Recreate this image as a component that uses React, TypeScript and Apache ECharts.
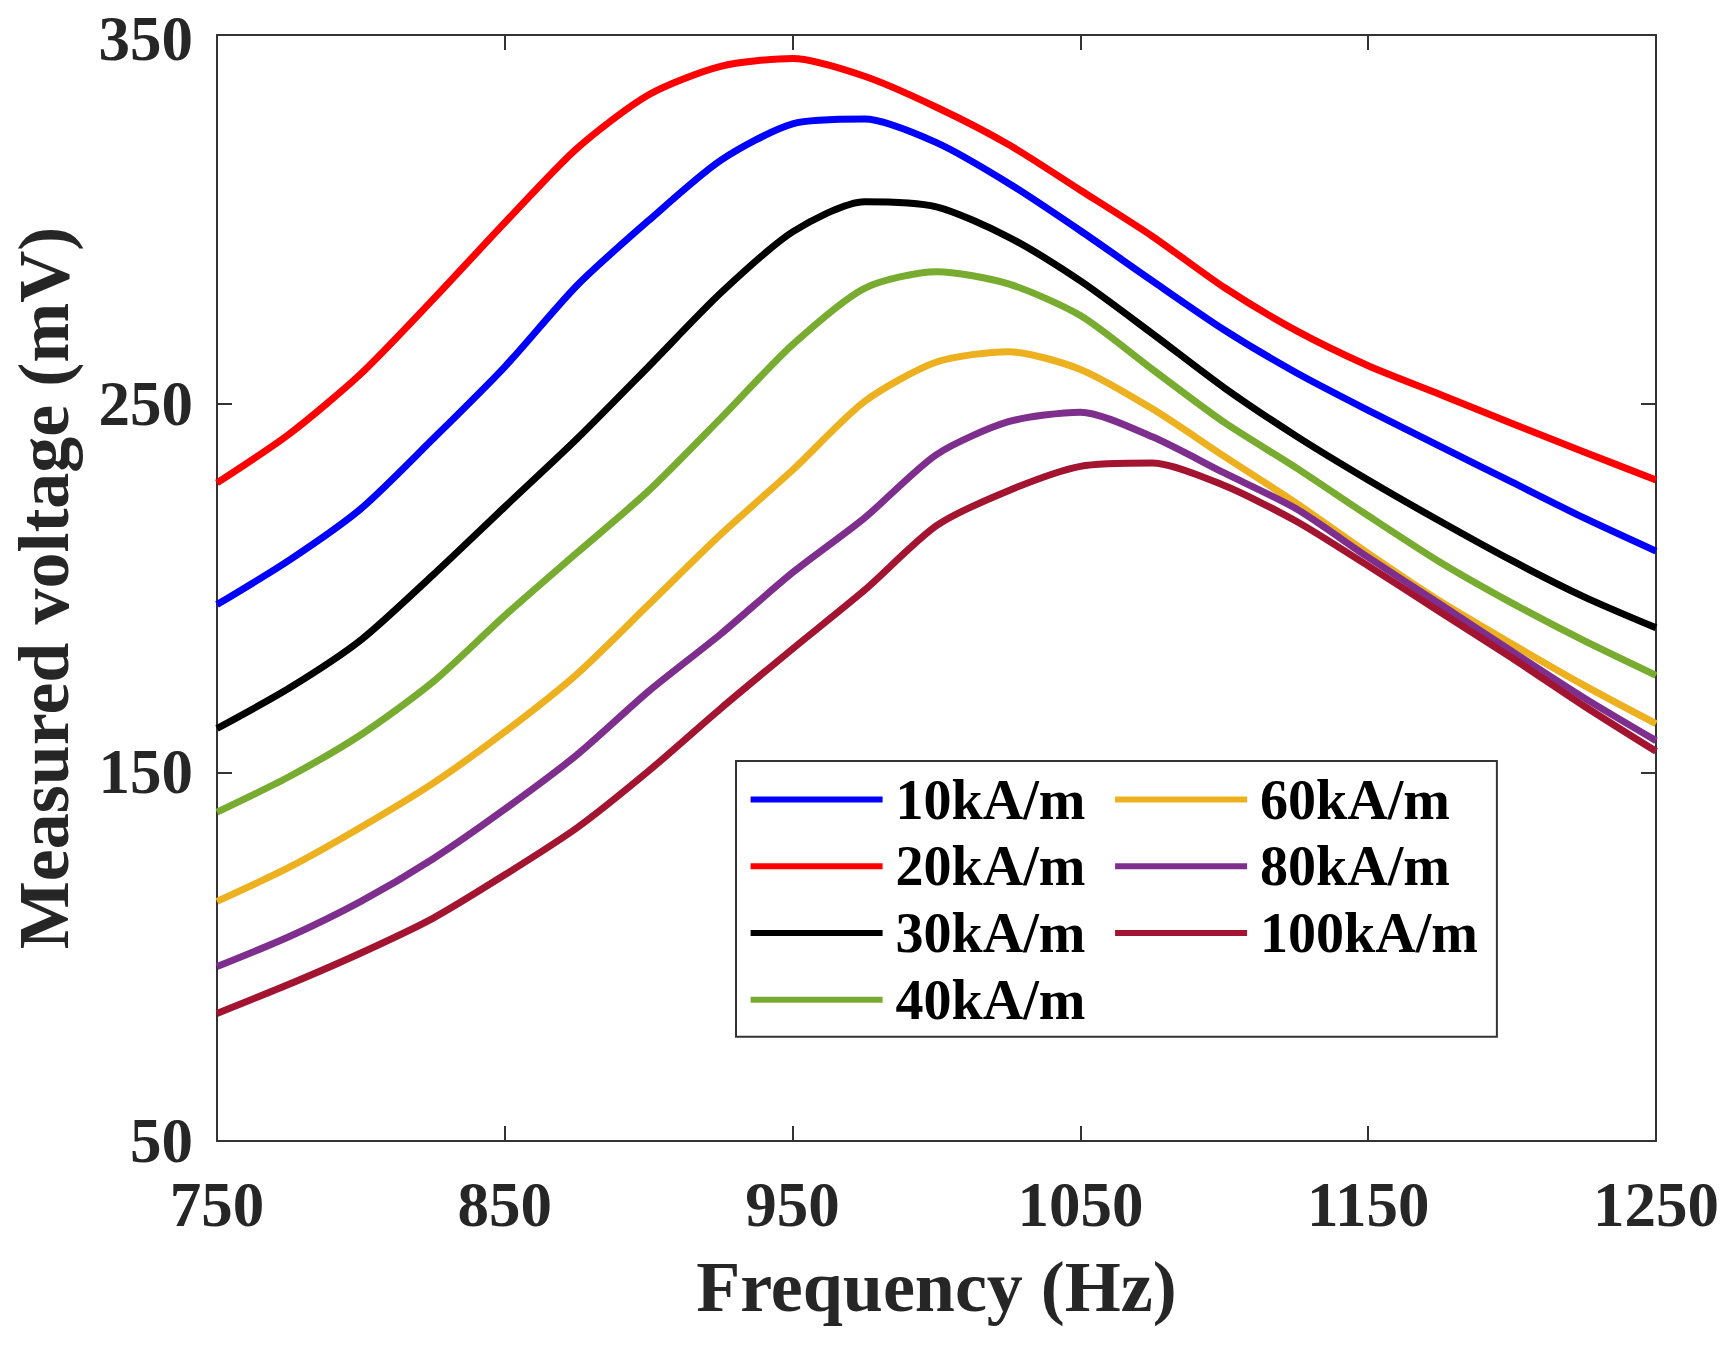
import React, { useEffect, useRef } from "react";
import * as echarts from "echarts";

const frequencies = [750, 775, 800, 825, 850, 875, 900, 925, 950, 975, 1000, 1025, 1050, 1075, 1100, 1125, 1150, 1175, 1200, 1225, 1250];

const seriesNames = ["10kA/m", "20kA/m", "30kA/m", "40kA/m", "60kA/m", "80kA/m", "100kA/m"];
const seriesColors = ["#0000FF", "#FF0000", "#000000", "#77AC30", "#EDB120", "#7E2F8E", "#A2142F"];

const v10 = [195.5, 207.5, 221.5, 240.4, 260.0, 282.0, 299.7, 316.0, 325.9, 327.2, 320.8, 309.8, 296.9, 283.3, 270.0, 258.4, 248.2, 238.4, 228.7, 219.0, 210.0];
const v20 = [228.5, 241.7, 258.1, 278.2, 299.1, 319.2, 333.8, 341.5, 343.6, 338.8, 330.4, 320.3, 307.9, 295.4, 281.5, 269.8, 260.3, 252.5, 244.6, 236.9, 229.3];
const v30 = [161.9, 172.8, 185.9, 203.5, 222.0, 240.4, 260.1, 280.0, 296.6, 304.8, 303.4, 295.2, 283.3, 269.0, 254.3, 241.2, 229.3, 218.1, 207.4, 197.6, 189.2];
const v40 = [139.2, 148.8, 160.2, 174.5, 192.5, 209.5, 226.4, 246.0, 266.0, 281.3, 285.8, 282.5, 273.9, 259.3, 244.9, 232.6, 219.6, 207.0, 195.9, 185.7, 176.3];
const v60 = [115.0, 124.2, 135.1, 147.0, 161.0, 176.6, 195.5, 214.5, 232.0, 250.6, 261.3, 264.1, 259.3, 248.6, 235.7, 223.0, 209.4, 196.4, 184.8, 173.6, 163.2];
const v80 = [97.3, 105.4, 115.0, 126.5, 140.0, 154.7, 172.0, 187.5, 204.2, 219.0, 236.2, 245.1, 247.7, 241.0, 231.2, 221.5, 208.3, 195.6, 182.8, 170.2, 158.6];
const v100 = [84.6, 92.5, 101.0, 110.4, 122.2, 134.9, 150.4, 167.3, 183.5, 199.4, 216.9, 226.4, 233.0, 233.9, 227.8, 218.1, 206.0, 193.5, 181.0, 168.0, 155.7];

const allValues = [v10, v20, v30, v40, v60, v80, v100];

const X_MIN = 750;
const X_MAX = 1250;
const X_STEP = 100;
const Y_MIN = 50;
const Y_MAX = 350;
const Y_STEP = 100;

const FONT = "'Liberation Serif', 'Times New Roman', Times, serif";
const AXIS_COLOR = "#333333";
const TEXT_COLOR = "#262626";

export default function App() {
  const ref = useRef<HTMLDivElement>(null);

  useEffect(() => {
    document.body.style.margin = "0";
    const chart = echarts.init(ref.current as HTMLDivElement, null, { renderer: "svg" });

    const axisLine = { show: true, onZero: false, lineStyle: { color: AXIS_COLOR, width: 2 } };
    const axisTick = { show: true, inside: true, length: 15, lineStyle: { color: AXIS_COLOR, width: 2 } };
    const tickFont = { fontFamily: FONT, fontSize: 63, fontWeight: "bold", color: TEXT_COLOR };

    chart.setOption({
      animation: false,
      backgroundColor: "#ffffff",
      grid: { left: 216, right: 80, top: 33, bottom: 205, containLabel: false },
      xAxis: [
        {
          type: "value",
          position: "bottom",
          min: X_MIN,
          max: X_MAX,
          interval: X_STEP,
          axisLine,
          axisTick,
          splitLine: { show: false },
          axisLabel: {
            formatter: (v: number) => String(v),
            ...tickFont,
            lineHeight: 56,
            margin: 36,
          },
          name: "Frequency (Hz)",
          nameLocation: "middle",
          nameGap: 110,
          nameTextStyle: { fontFamily: FONT, fontSize: 72, fontWeight: "bold", color: TEXT_COLOR },
        },
        {
          type: "value",
          position: "top",
          min: X_MIN,
          max: X_MAX,
          interval: X_STEP,
          axisLine,
          axisTick,
          splitLine: { show: false },
          axisLabel: { show: false },
        },
      ],
      yAxis: [
        {
          type: "value",
          position: "left",
          min: Y_MIN,
          max: Y_MAX,
          interval: Y_STEP,
          axisLine,
          axisTick,
          splitLine: { show: false },
          axisLabel: {
            formatter: (v: number) => (v === Y_MAX ? `{top|${v}}` : String(v)),
            ...tickFont,
            lineHeight: 52,
            margin: 24,
            rich: {
              top: { ...tickFont, lineHeight: 52, padding: [7, 0, 0, 0] },
            },
          },
          name: "Measured voltage (mV)",
          nameLocation: "middle",
          nameGap: 137,
          nameRotate: 90,
          nameTextStyle: { fontFamily: FONT, fontSize: 72, fontWeight: "bold", color: TEXT_COLOR },
        },
        {
          type: "value",
          position: "right",
          min: Y_MIN,
          max: Y_MAX,
          interval: Y_STEP,
          axisLine,
          axisTick,
          splitLine: { show: false },
          axisLabel: { show: false },
        },
      ],
      legend: {
        data: seriesNames,
        orient: "vertical",
        left: 736,
        top: 761,
        height: 280,
        padding: [10.6, 0, 9, 14.6],
        itemGap: 10.7,
        itemWidth: 132,
        itemHeight: 6,
        icon: "rect",
        backgroundColor: "#ffffff",
        borderColor: AXIS_COLOR,
        borderWidth: 2,
        selectedMode: false,
        z: 10,
        textStyle: {
          fontFamily: FONT,
          fontSize: 56,
          fontWeight: "bold",
          color: "#000000",
          lineHeight: 56,
          padding: [0, 19, 0, 8],
        },
      },
      series: seriesNames.map((name, i) => ({
        name,
        type: "line",
        xAxisIndex: 0,
        yAxisIndex: 0,
        data: frequencies.map((f, j) => [f, allValues[i][j]]),
        symbol: "none",
        showSymbol: false,
        smooth: 0.25,
        lineStyle: { width: 7, color: seriesColors[i] },
        itemStyle: { color: seriesColors[i] },
        z: 2 + i * 0.01,
      })),
    });

    return () => chart.dispose();
  }, []);

  return <div ref={ref} style={{ width: 1736, height: 1346 }} />;
}
